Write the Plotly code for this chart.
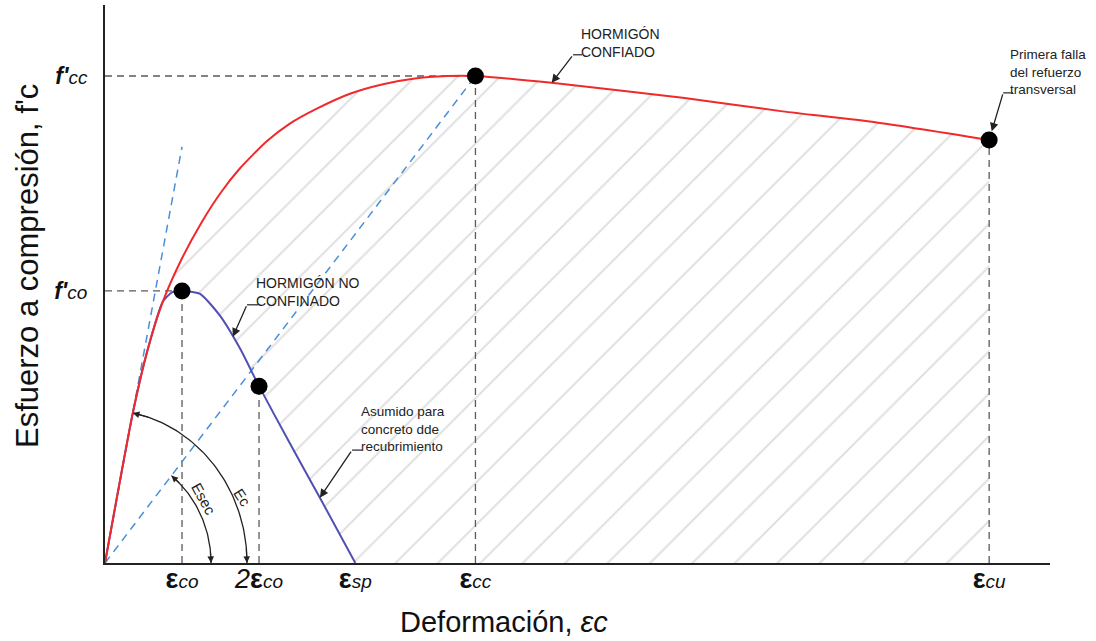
import numpy as np
import plotly.graph_objects as go

# ---- data (normalised: strain / eps_co, stress / f'co) ----
conf_strain = [0, 0.36, 0.55, 0.75, 1.0, 1.25, 1.5, 1.75, 2.10, 2.40, 2.75, 3.18,
               3.61, 4.0, 4.44, 4.81, 5.8, 7.5, 8.8, 10.0, 11.48]
conf_stress = [0, 0.55, 0.78, 0.96, 1.12, 1.25, 1.36, 1.45, 1.55, 1.615, 1.67, 1.725,
               1.76, 1.78, 1.79, 1.79, 1.765, 1.71, 1.66, 1.62, 1.555]

unconf_strain = [0, 0.36, 0.55, 0.75, 0.87, 1.0, 1.23, 1.49, 1.75, 2.0, 2.4, 2.79, 3.25]
unconf_stress = [0, 0.55, 0.78, 0.96, 0.995, 1.0, 0.99, 0.91, 0.79, 0.65, 0.44, 0.24, 0]

eps_co, eps_2co, eps_sp, eps_cc, eps_cu = 1.0, 2.0, 3.25, 4.81, 11.48
f_co, f_cc = 1.0, 1.79
f_2co, f_cu = 0.65, 1.555
tangent_end = [1.0, 1.53]          # initial modulus Ec line end

key_x = [eps_co, eps_2co, eps_cc, eps_cu]
key_y = [f_co, f_2co, f_cc, f_cu]

x_tickvals = [eps_co, eps_2co, eps_sp, eps_cc, eps_cu]
sub = "<span style='font-size:19px'>{}</span>"
x_ticktext = ["<b>ε</b><i>" + sub.format("co") + "</i>",
              "<i>2</i><b>ε</b><i>" + sub.format("co") + "</i>",
              "<b>ε</b><i>" + sub.format("sp") + "</i>",
              "<b>ε</b><i>" + sub.format("cc") + "</i>",
              "<b>ε</b><i>" + sub.format("cu") + "</i>"]
y_tickvals = [f_co, f_cc]
y_ticktext = ["<b><i>f'</i></b><i>" + sub.format("co") + "</i>",
              "<b><i>f'</i></b><i>" + sub.format("cc") + "</i>"]

X_MAX, Y_MAX = 12.27, 2.051

RED = "#f02a2a"
BLUE = "#5050b4"
LBLUE = "#4a90d8"
GREY = "#5a5a5a"
HATCH = "#c2c2c2"
FONT = "Liberation Sans, Arial"

fig = go.Figure()

# hatched area between confined and unconfined curves
i_red = conf_strain.index(0.75)
i_blue = unconf_strain.index(0.75)
hx = conf_strain[i_red:] + [eps_cu] + unconf_strain[::-1][:len(unconf_strain) - i_blue]
hy = conf_stress[i_red:] + [0] + unconf_stress[::-1][:len(unconf_stress) - i_blue]
fig.add_trace(go.Scatter(x=hx, y=hy, mode="lines", line=dict(width=0), fill="toself",
                         fillcolor="rgba(0,0,0,0)",
                         fillpattern=dict(shape="/", size=30, solidity=0.07, fgcolor=HATCH,
                                          bgcolor="rgba(0,0,0,0)"),
                         hoverinfo="skip"))

# grey dashed reference lines
dash_g = dict(color=GREY, width=1.3, dash="7px,5px")
for xs, ys in [([0, eps_cc], [f_cc, f_cc]), ([0, eps_co], [f_co, f_co]),
               ([eps_co, eps_co], [0, f_co]), ([eps_2co, eps_2co], [0, f_2co]),
               ([eps_cc, eps_cc], [0, f_cc]), ([eps_cu, eps_cu], [0, f_cu])]:
    fig.add_trace(go.Scatter(x=xs, y=ys, mode="lines", line=dash_g, hoverinfo="skip"))

# blue dashed tangent & secant
dash_b = dict(color=LBLUE, width=1.5, dash="8px,6px")
fig.add_trace(go.Scatter(x=[0, tangent_end[0]], y=[0, tangent_end[1]], mode="lines", line=dash_b))
fig.add_trace(go.Scatter(x=[0, eps_cc], y=[0, f_cc], mode="lines", line=dash_b))

# modulus arcs (elliptical in data units)
ARC = "#222222"
arcs = [(1.844, 0.5625, 78.7), (1.377, 0.412, 51.2)]
annotations = []
for rx, ry, tdeg in arcs:
    t = np.radians(np.linspace(0, tdeg, 60))
    fig.add_trace(go.Scatter(x=rx * np.cos(t), y=ry * np.sin(t), mode="lines",
                             line=dict(color=ARC, width=1.3), hoverinfo="skip"))
    t1 = np.radians(tdeg)
    tb = np.radians(tdeg - 7)
    ta = np.radians(6)
    annotations.append(dict(x=rx, y=0, ax=rx * np.cos(ta), ay=ry * np.sin(ta), xref="x", yref="y",
                            axref="x", ayref="y", showarrow=True, arrowhead=2, arrowsize=1.1,
                            arrowwidth=1.2, arrowcolor=ARC, text=""))
    annotations.append(dict(x=rx * np.cos(t1), y=ry * np.sin(t1), ax=rx * np.cos(tb),
                            ay=ry * np.sin(tb), xref="x", yref="y", axref="x", ayref="y",
                            showarrow=True, arrowhead=2, arrowsize=1.1, arrowwidth=1.2,
                            arrowcolor=ARC, text=""))

# curves
fig.add_trace(go.Scatter(x=unconf_strain, y=unconf_stress, mode="lines",
                         line=dict(color=BLUE, width=2, shape="spline", smoothing=0.6)))
fig.add_trace(go.Scatter(x=conf_strain, y=conf_stress, mode="lines",
                         line=dict(color=RED, width=2, shape="spline", smoothing=0.6)))
fig.add_trace(go.Scatter(x=key_x, y=key_y, mode="markers",
                         marker=dict(color="black", size=17)))


# leader lines (bend -> text start) and arrows (bend -> target)
def on_blue(x):
    return x, float(np.interp(x, unconf_strain, unconf_stress))


def on_red(x):
    return x, float(np.interp(x, conf_strain, conf_stress))


leaders = [
    # target, bend, horizontal end, standoff
    (on_blue(1.66), (1.844, 0.949), 1.987, 0),
    (on_red(5.8), (6.078, 1.868), 6.195, 0),
    ((eps_cu, f_cu), (11.662, 1.728), 11.79, 9),
    (on_blue(2.79), (3.208, 0.415), 3.338, 0),
]
for (tx, ty), (bx, by), hx_end, so in leaders:
    fig.add_trace(go.Scatter(x=[bx, hx_end], y=[by, by], mode="lines",
                             line=dict(color="#222", width=1.2), hoverinfo="skip"))
    annotations.append(dict(x=tx, y=ty, ax=bx, ay=by, xref="x", yref="y", axref="x", ayref="y",
                            showarrow=True, arrowhead=2, arrowsize=1.3, arrowwidth=1.3,
                            arrowcolor="#222", text="", standoff=so))

texts = [
    (1.935, 0.996, "HORMIGÓN NO<br>CONFINADO", 14),
    (6.156, 1.910, "HORMIGÓN<br>CONFIADO", 14),
    (11.72, 1.805, "Primera falla<br>del refuerzo<br>transversal", 13.5),
    (3.30, 0.493, "Asumido para<br>concreto dde<br>recubrimiento", 13.5),
]
for x, y, t, s in texts:
    annotations.append(dict(x=x, y=y, xref="x", yref="y", text=t, showarrow=False,
                            xanchor="left", yanchor="middle", align="left",
                            font=dict(family=FONT, size=s, color="#222")))

# rotated modulus labels
annotations.append(dict(x=1.78, y=0.24, xref="x", yref="y", text="Ec", showarrow=False,
                        textangle=57, font=dict(family=FONT, size=15, color="#222")))
annotations.append(dict(x=1.29, y=0.235, xref="x", yref="y", text="Esec", showarrow=False,
                        textangle=61, font=dict(family=FONT, size=15, color="#222")))

# axis titles
annotations.append(dict(x=(27 - 105) / 945, y=(563 - 266) / 558, xref="paper", yref="paper",
                        text="Esfuerzo a compresión, f'c", textangle=-90, showarrow=False,
                        xanchor="center", yanchor="middle",
                        font=dict(family=FONT, size=31, color="#111")))
annotations.append(dict(x=(504 - 105) / 945, y=(563 - 640) / 558, xref="paper", yref="paper",
                        text="Deformación, <i>εc</i>", showarrow=False,
                        xanchor="center", yanchor="bottom",
                        font=dict(family=FONT, size=29, color="#111")))

fig.update_layout(
    width=1096, height=641, margin=dict(l=105, r=46, t=5, b=78),
    plot_bgcolor="white", paper_bgcolor="white", showlegend=False,
    font=dict(family=FONT, color="#111"),
    annotations=annotations,
    xaxis=dict(range=[0, X_MAX], showline=True, linecolor="#222", linewidth=2,
               showgrid=False, zeroline=False, ticks="", tickvals=x_tickvals,
               ticktext=x_ticktext, tickfont=dict(size=27, color="#111"),
               ticklabelstandoff=-9, fixedrange=True),
    yaxis=dict(range=[0, Y_MAX], showline=True, linecolor="#222", linewidth=2,
               showgrid=False, zeroline=False, ticks="", tickvals=y_tickvals,
               ticktext=y_ticktext, tickfont=dict(size=23, color="#111"),
               ticklabelstandoff=11, fixedrange=True),
)

fig.write_html("out.html", config={"displayModeBar": False},
               post_script="document.body.style.margin='0';document.body.style.overflow='hidden';")
